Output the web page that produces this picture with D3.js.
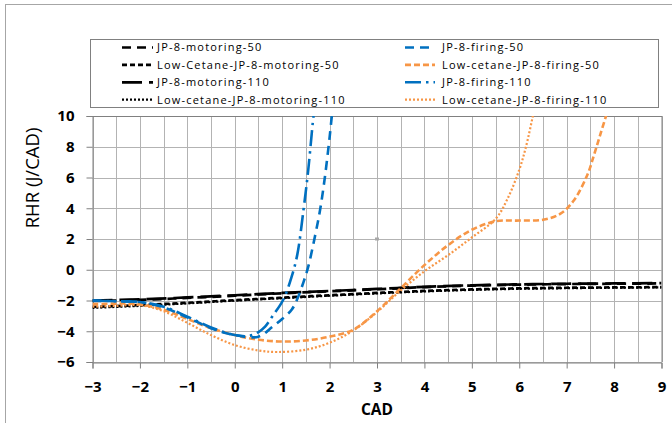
<!DOCTYPE html>
<html>
<head>
<meta charset="utf-8">
<script src="https://cdn.jsdelivr.net/npm/d3@7"></script>
<style>
  html, body { margin: 0; padding: 0; background: #fff; }
  svg { display: block; }
  text { font-family: "Open Sans", "Liberation Sans", sans-serif; fill: #000; }
</style>
</head>
<body>
<svg id="chart" width="672" height="423"></svg>
<script>
// Rate of heat release vs crank angle, motoring and firing runs
const xTicks = [-3, -2, -1, 0, 1, 2, 3, 4, 5, 6, 7, 8, 9];
const yTicks = [-6, -4, -2, 0, 2, 4, 6, 8, 10];

const cadMotoring = [-3, -2, -1, 0, 1, 2, 3, 4, 5, 6, 7, 8, 9];
const jp8Motoring50 = [-2.03, -1.96, -1.83, -1.69, -1.53, -1.40, -1.27, -1.13, -1.03, -0.97, -0.93, -0.91, -0.89];
const lowCetaneMotoring50 = [-2.42, -2.30, -2.15, -1.98, -1.82, -1.66, -1.51, -1.38, -1.28, -1.21, -1.17, -1.15, -1.13];
const jp8Motoring110 = [-2.00, -1.93, -1.80, -1.66, -1.51, -1.38, -1.25, -1.11, -1.01, -0.95, -0.91, -0.89, -0.87];
const lowCetaneMotoring110 = [-2.48, -2.35, -2.19, -2.01, -1.85, -1.69, -1.54, -1.41, -1.31, -1.24, -1.20, -1.17, -1.15];

const cadJp8Firing50 = [-3, -2.5, -2, -1.5, -1, -0.5, 0, 0.5, 0.8, 1.0, 1.2, 1.31, 1.45, 1.55, 1.7, 1.8, 1.9, 2.0, 2.06];
const jp8Firing50 = [-2.0, -2.05, -2.1, -2.45, -3.1, -3.8, -4.25, -4.35, -3.7, -3.2, -2.6, -1.97, -0.8, 0.2, 2.3, 3.9, 6.0, 8.6, 10.4];

const cadJp8Firing110 = [-3, -2.5, -2, -1.5, -1, -0.5, 0, 0.3, 0.5, 0.64, 0.8, 1.02, 1.2, 1.32, 1.45, 1.55, 1.66, 1.7];
const jp8Firing110 = [-2.0, -2.05, -2.1, -2.4, -3.05, -3.75, -4.25, -4.3, -4.05, -3.7, -3.0, -1.97, -0.45, 1.0, 3.9, 6.5, 10.0, 11.0];

const cadLowCetaneFiring50 = [-3, -2.5, -2, -1.5, -1, -0.5, 0, 0.5, 1, 1.5, 2, 2.5, 3, 3.5, 4, 4.5, 5, 5.5, 6, 6.5, 6.87, 7.15, 7.44, 7.58, 7.72, 7.86];
const lowCetaneFiring50 = [-2.25, -2.2, -2.25, -2.6, -3.2, -3.8, -4.25, -4.55, -4.67, -4.6, -4.35, -3.9, -2.7, -1.2, 0.3, 1.6, 2.6, 3.15, 3.2, 3.25, 3.65, 4.5, 6.2, 7.5, 8.9, 10.3];

const cadLowCetaneFiring110 = [-3, -2.5, -2, -1.5, -1, -0.5, 0, 0.5, 0.9, 1.5, 2, 2.5, 3, 3.5, 4, 4.5, 5, 5.5, 5.75, 6.0, 6.15, 6.3];
const lowCetaneFiring110 = [-2.4, -2.35, -2.3, -2.7, -3.45, -4.25, -4.9, -5.25, -5.35, -5.2, -4.75, -3.95, -2.75, -1.35, -0.1, 0.95, 2.1, 3.3, 4.6, 6.5, 8.1, 10.2];

const seriesNames = [
  "JP-8-motoring-50", "Low-Cetane-JP-8-motoring-50", "JP-8-motoring-110", "Low-cetane-JP-8-motoring-110",
  "JP-8-firing-50", "Low-cetane-JP-8-firing-50", "JP-8-firing-110", "Low-cetane-JP-8-firing-110"
];

const BLACK = "#000000", BLUE = "#0070C0", ORANGE = "#F79646";

const series = [
  { name: seriesNames[0], x: cadMotoring, y: jp8Motoring50, color: BLACK, dash: "9,6", width: 2.7 },
  { name: seriesNames[1], x: cadMotoring, y: lowCetaneMotoring50, color: BLACK, dash: "5,3", width: 2.7 },
  { name: seriesNames[2], x: cadMotoring, y: jp8Motoring110, color: BLACK, dash: "20,7", width: 2.7 },
  { name: seriesNames[3], x: cadMotoring, y: lowCetaneMotoring110, color: BLACK, dash: "2,2", width: 2.2 },
  { name: seriesNames[4], x: cadJp8Firing50, y: jp8Firing50, color: BLUE, dash: "9,6", width: 2.6 },
  { name: seriesNames[5], x: cadLowCetaneFiring50, y: lowCetaneFiring50, color: ORANGE, dash: "6,3", width: 2.6 },
  { name: seriesNames[6], x: cadJp8Firing110, y: jp8Firing110, color: BLUE, dash: "16,5,2.5,5", width: 2.6 },
  { name: seriesNames[7], x: cadLowCetaneFiring110, y: lowCetaneFiring110, color: ORANGE, dash: "2,2", width: 2.2 }
];

const svg = d3.select("#chart");
const plot = { left: 92.5, right: 661.5, top: 116, bottom: 362 };

const x = d3.scaleLinear().domain([-3, 9]).range([plot.left, plot.right]);
const y = d3.scaleLinear().domain([-6, 10]).range([plot.bottom, plot.top]);

// outer chart frame
svg.append("rect")
  .attr("x", 5.5).attr("y", 4.5).attr("width", 700).attr("height", 500)
  .attr("fill", "none").attr("stroke", "#a6a6a6").attr("stroke-width", 1);

// gridlines
const gx = d3.range(-3, 9.01, 0.5);
svg.append("g").selectAll("line").data(gx).join("line")
  .attr("x1", d => Math.round(x(d)) + 0.5).attr("x2", d => Math.round(x(d)) + 0.5)
  .attr("y1", plot.top).attr("y2", plot.bottom)
  .attr("stroke", "#b3b3b3").attr("stroke-width", 1);
svg.append("g").selectAll("line").data(yTicks).join("line")
  .attr("x1", plot.left).attr("x2", plot.right)
  .attr("y1", d => Math.round(y(d)) + 0.5).attr("y2", d => Math.round(y(d)) + 0.5)
  .attr("stroke", "#b3b3b3").attr("stroke-width", 1);

// plot border (right and top)
svg.append("path")
  .attr("d", `M${plot.left},${plot.top + 0.5}H${plot.right + 0.5}V${plot.bottom}`)
  .attr("fill", "none").attr("stroke", "#808080").attr("stroke-width", 1);

// axes
const xAxis = d3.axisBottom(x).tickValues(xTicks).tickSize(6).tickPadding(13).tickFormat(d3.format("d"));
const yAxis = d3.axisLeft(y).tickValues(yTicks).tickSize(6).tickPadding(12).tickFormat(d3.format("d"));

const gxa = svg.append("g").attr("transform", `translate(0,${plot.bottom + 0.5})`).call(xAxis);
const gya = svg.append("g").attr("transform", `translate(${plot.left},0)`).call(yAxis);
[gxa, gya].forEach(g => {
  g.select(".domain").attr("stroke", "#808080");
  g.selectAll(".tick line").attr("stroke", "#808080");
  g.selectAll(".tick text")
    .attr("font-size", 15).attr("font-weight", 700)
    .style("font-family", "'Open Sans', sans-serif").attr("fill", "#000");
});
gxa.selectAll(".tick text").attr("dy", "0.71em");

// axis titles
svg.append("text")
  .attr("x", (plot.left + plot.right) / 2).attr("y", 415)
  .attr("text-anchor", "middle").attr("font-size", 15.5).attr("font-weight", 700)
  .text("CAD");
svg.append("text")
  .attr("transform", "translate(39,178) rotate(-90)")
  .attr("text-anchor", "middle").attr("font-size", 18.5)
  .text("RHR (J/CAD)");

// curves
svg.append("defs").append("clipPath").attr("id", "plotClip")
  .append("rect").attr("x", plot.left).attr("y", plot.top)
  .attr("width", plot.right - plot.left).attr("height", plot.bottom - plot.top);

const line = d3.line().x(d => x(d[0])).y(d => y(d[1])).curve(d3.curveCatmullRom.alpha(0.5));
const drawOrder = [3, 1, 2, 0, 7, 5, 6, 4];
const gCurves = svg.append("g").attr("clip-path", "url(#plotClip)");
drawOrder.forEach(i => {
  const s = series[i];
  gCurves.append("path")
    .attr("d", line(d3.zip(s.x, s.y)))
    .attr("fill", "none").attr("stroke", s.color)
    .attr("stroke-width", s.width).attr("stroke-dasharray", s.dash)
    .attr("stroke-linecap", "butt");
});

// small marker near (3, 2)
svg.append("rect")
  .attr("x", x(3) - 2).attr("y", y(2) - 1.5).attr("width", 4).attr("height", 3)
  .attr("fill", "#a8a8a8");

// legend
const legend = svg.append("g");
legend.append("rect")
  .attr("x", 90.5).attr("y", 39.5).attr("width", 568).attr("height", 68)
  .attr("fill", "#fff").attr("stroke", "#808080").attr("stroke-width", 1);

const legendCols = [{ x1: 122, x2: 153, tx: 157 }, { x1: 405, x2: 435, tx: 442 }];
const legendOrder = [[0, 1, 2, 3], [4, 5, 6, 7]];
legendOrder.forEach((col, c) => {
  col.forEach((si, r) => {
    const s = series[si];
    const cy = 47.5 + r * 17.4;
    const lc = legendCols[c];
    legend.append("line")
      .attr("x1", lc.x1).attr("x2", lc.x2).attr("y1", cy).attr("y2", cy)
      .attr("stroke", s.color).attr("stroke-width", s.width)
      .attr("stroke-dasharray", s.dash);
    legend.append("text")
      .attr("x", lc.tx).attr("y", cy).attr("dy", "0.35em")
      .attr("font-size", 11).attr("letter-spacing", 1.2)
      .text(s.name);
  });
});
</script>
</body>
</html>
